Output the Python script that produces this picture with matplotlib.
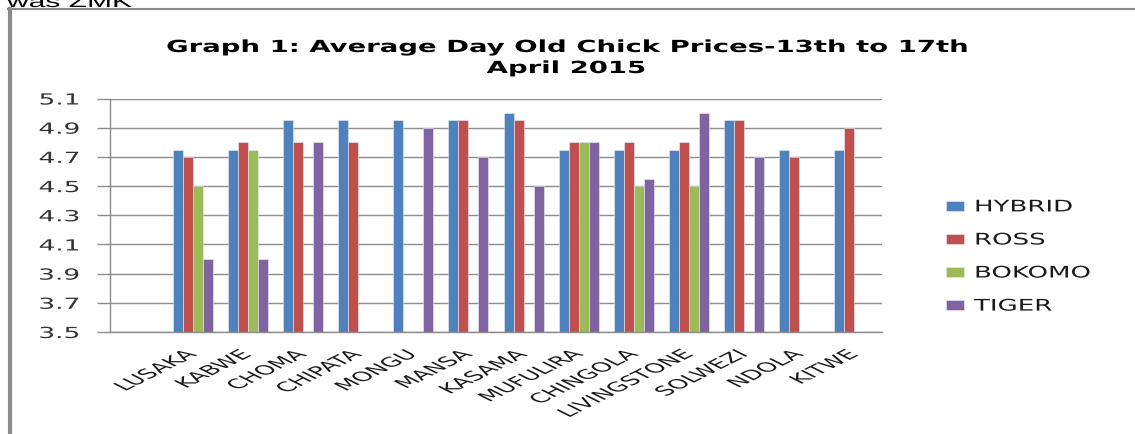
import numpy as np
import matplotlib
matplotlib.use('Agg')
import matplotlib.pyplot as plt
from matplotlib import patheffects
from matplotlib.transforms import Affine2D
from matplotlib.lines import Line2D

nan = np.nan
towns = ['LUSAKA', 'KABWE', 'CHOMA', 'CHIPATA', 'MONGU', 'MANSA', 'KASAMA',
         'MUFULIRA', 'CHINGOLA', 'LIVINGSTONE', 'SOLWEZI', 'NDOLA', 'KITWE']
series = ['HYBRID', 'ROSS', 'BOKOMO', 'TIGER']
hybrid = [4.75, 4.75, 4.95, 4.95, 4.95, 4.95, 5.0, 4.75, 4.75, 4.75, 4.95, 4.75, 4.75]
ross = [4.7, 4.8, 4.8, 4.8, nan, 4.95, 4.95, 4.8, 4.8, 4.8, 4.95, 4.7, 4.9]
bokomo = [4.5, 4.75, nan, nan, nan, nan, nan, 4.8, 4.5, 4.5, nan, nan, nan]
tiger = [4.0, 4.0, 4.8, nan, 4.9, 4.7, 4.5, 4.8, 4.55, 5.0, 4.7, nan, nan]
yticks = [3.5, 3.7, 3.9, 4.1, 4.3, 4.5, 4.7, 4.9, 5.1]
colors = ['#4F81BD', '#C0504D', '#9BBB59', '#8064A2']

W, H = 1135, 435


class Stretch(patheffects.AbstractPathEffect):
    # the source picture is stretched sideways, so widen drawn text about x0 (display px)
    def __init__(self, sx, x0):
        super().__init__()
        self.sx, self.x0 = sx, x0

    def draw_path(self, renderer, gc, tpath, affine, rgbFace=None):
        t = affine + Affine2D().translate(-self.x0, 0).scale(self.sx, 1).translate(self.x0, 0)
        renderer.draw_path(gc, tpath, t, rgbFace)


def stretch(t, sx, x0=None):
    if x0 is None:
        bb = t.get_window_extent()
        x0 = {'left': bb.x0, 'right': bb.x1,
              'center': 0.5 * (bb.x0 + bb.x1)}[t.get_horizontalalignment()]
    t.set_path_effects([Stretch(sx, x0)])


fig = plt.figure(figsize=(W / 100, H / 100), dpi=100)
ax = fig.add_axes([110 / W, (H - 333) / H, (882 - 110) / W, (333 - 99.5) / H])

x = np.arange(len(towns))
w = 10 / 55.
for k, vals in enumerate([hybrid, ross, bokomo, tiger]):
    ax.bar(x + (k - 1.5) * w, vals, w, color=colors[k], label=series[k],
           edgecolor='#e8eef6', linewidth=0.4)

ax.set_xlim(-1.5, len(towns) - 0.5)
ax.set_ylim(3.5, 5.1)
ax.set_yticks(yticks)
ax.set_yticklabels(['%.1f' % v for v in yticks])
ax.set_xticks(x)
ax.set_xticklabels(towns, rotation=45, ha='right', va='center',
                   rotation_mode='anchor', fontsize=9.5, color='#1a1a1a')
ax.tick_params(axis='x', length=0, pad=14.8)
ax.tick_params(axis='y', length=9.4, width=1, color='#8c8c8c', pad=12,
               labelsize=11, labelcolor='#333333')
ax.yaxis.grid(True, color='#8c8c8c', lw=1)
ax.set_axisbelow(True)
for s in ['top', 'right']:
    ax.spines[s].set_visible(False)
for s in ['left', 'bottom']:
    ax.spines[s].set_color('#8c8c8c')
    ax.spines[s].set_linewidth(1)

fs = 11.5 * 100 / 72.
leg = fig.legend(loc='center left', bbox_to_anchor=(946 / W, 1 - 257.5 / H),
                 frameon=False, fontsize=11.5, handlelength=18 / fs,
                 handleheight=9 / fs, handletextpad=10 / fs, labelspacing=1.13,
                 borderpad=0, borderaxespad=0)
for t in leg.get_texts():
    t.set_color('#1a1a1a')

t1 = fig.text(566 / W, 1 - 53 / H, 'Graph 1: Average Day Old Chick Prices-13th to 17th',
              ha='center', va='baseline', fontsize=12, fontweight='bold')
t2 = fig.text(566 / W, 1 - 74 / H, 'April 2015',
              ha='center', va='baseline', fontsize=12, fontweight='bold')
t3 = fig.text(7 / W, 1 - 8 / H, 'was ZMK', ha='left', va='baseline',
              fontsize=12, family='Liberation Sans')

# page frame around the pasted chart
fig.add_artist(Line2D([8 / W, 1], [1 - 10.3 / H] * 2, transform=fig.transFigure,
                      color='#8a8a8a', lw=1.5))
fig.add_artist(Line2D([9.5 / W] * 2, [0, 1 - 10 / H], transform=fig.transFigure,
                      color='#8a8a8a', lw=3))

fig.canvas.draw()
for t in [t1, t2]:
    stretch(t, 1.65)
stretch(t3, 1.8)
for t in leg.get_texts():
    stretch(t, 1.63)
for t in ax.get_yticklabels():
    stretch(t, 1.73)
for i, t in enumerate(ax.get_xticklabels()):
    stretch(t, 2.0, ax.transData.transform((i, 0))[0])

fig.savefig('out.png', dpi=100)
